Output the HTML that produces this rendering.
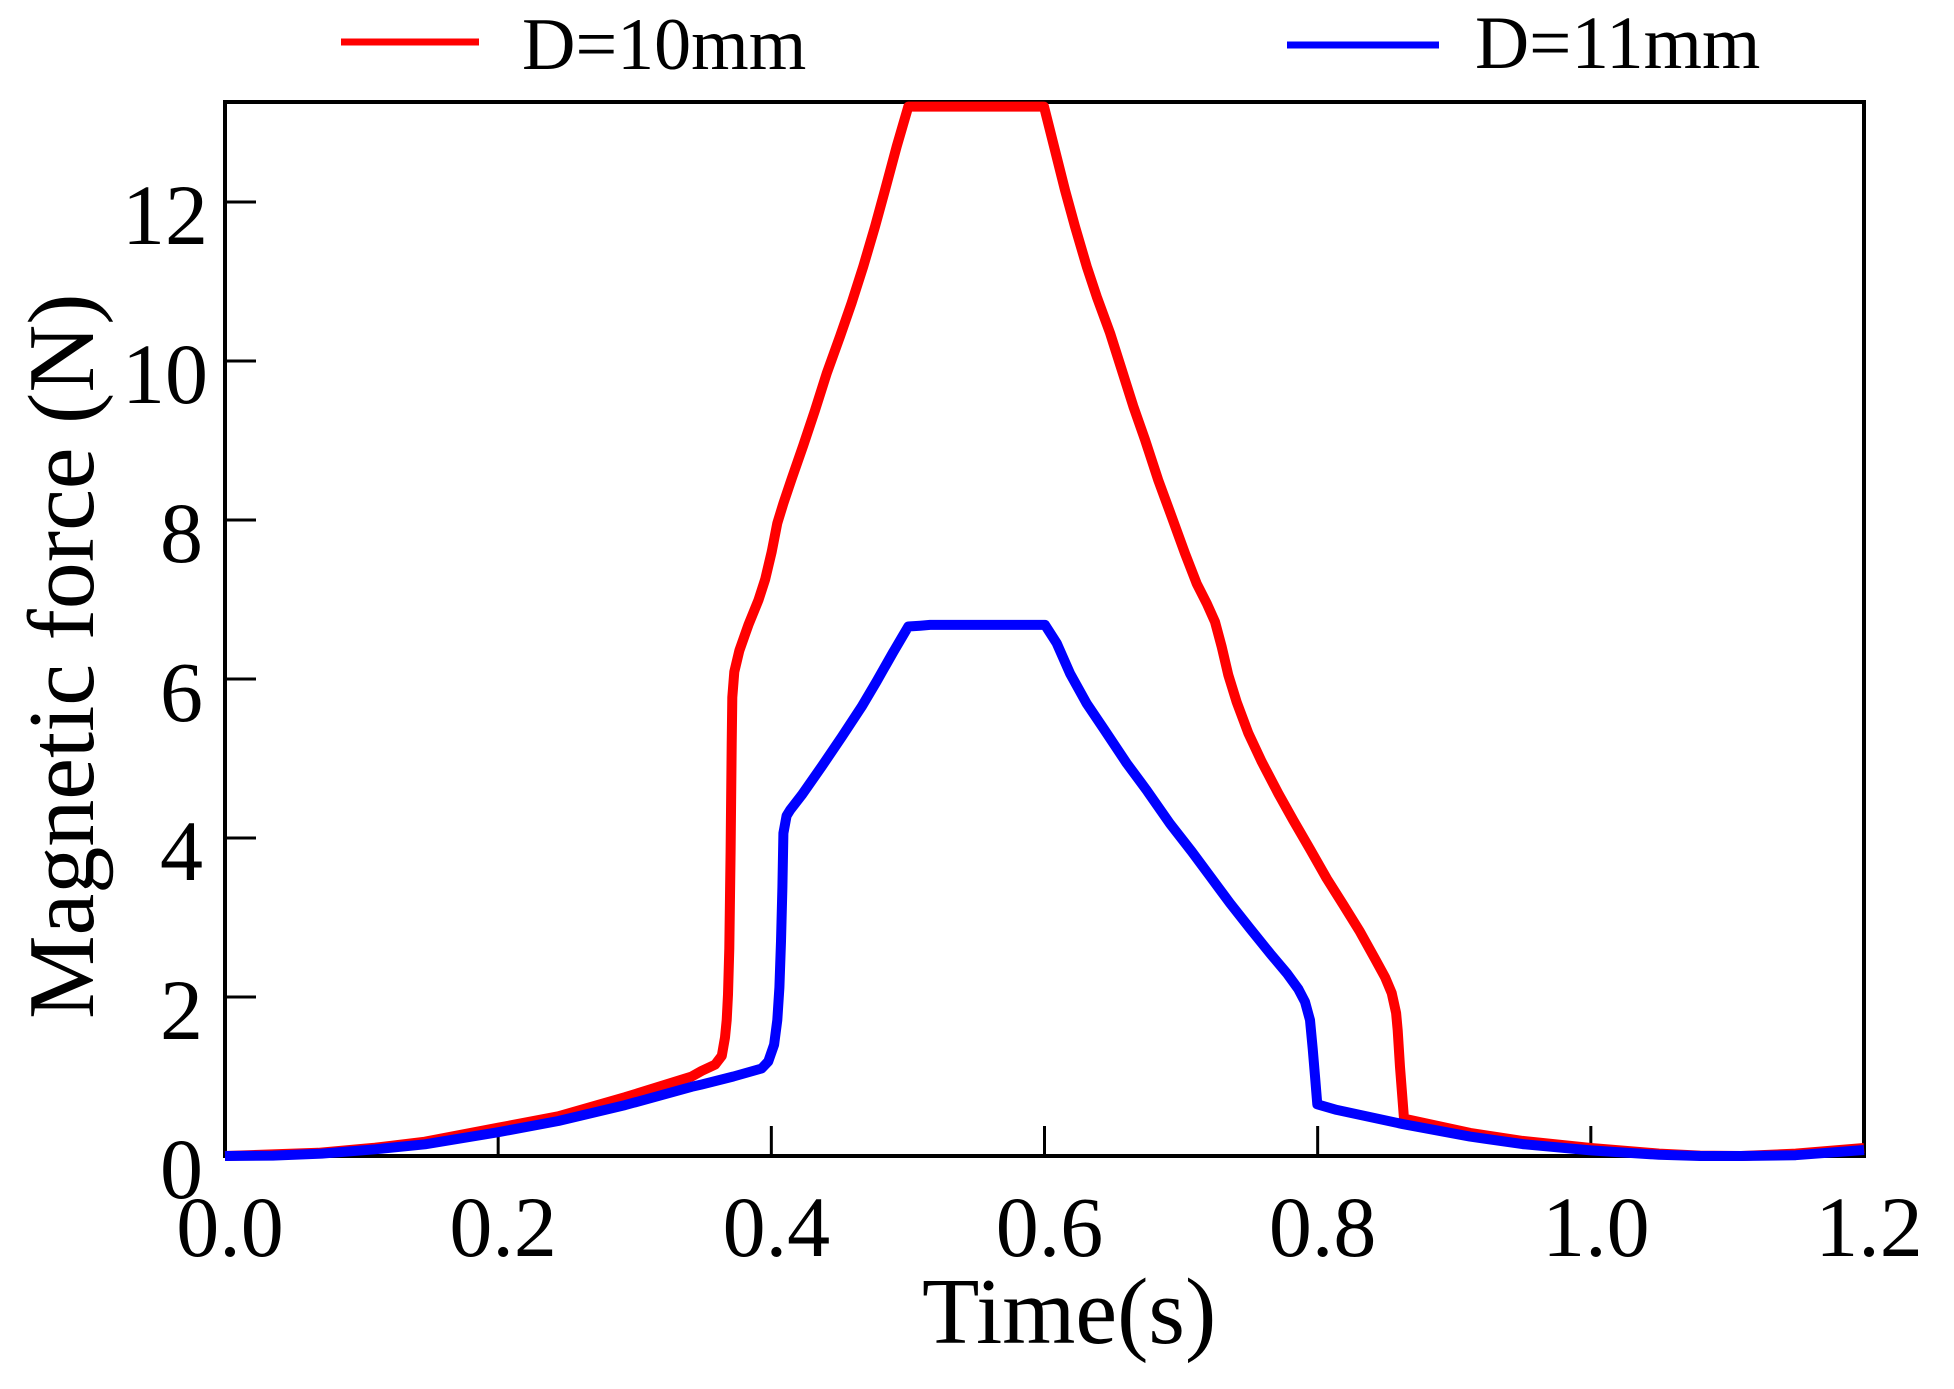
<!DOCTYPE html>
<html>
<head>
<meta charset="utf-8">
<title>Magnetic force vs time</title>
<style>
html,body{margin:0;padding:0;background:#fff;}
svg{display:block;}
text{font-family:"Liberation Serif",serif;fill:#000;}
</style>
</head>
<body>
<svg id="chart" width="1954" height="1389" viewBox="0 0 1954 1389" xmlns="http://www.w3.org/2000/svg">
<rect x="0" y="0" width="1954" height="1389" fill="#fff"/>
<g id="ticks"></g>
<rect x="225" y="102" width="1639" height="1054" fill="none" stroke="#000" stroke-width="4"/>
<g id="series"></g>
<g id="labels"></g>
<text x="922" y="1343" font-size="94">Time(s)</text>
<text transform="translate(93,1019) rotate(-90)" font-size="94">Magnetic force (N)</text>
<g>
<line x1="341" y1="42" x2="479" y2="42" stroke="#f00" stroke-width="7"/>
<text x="522" y="69" font-size="74">D=10mm</text>
<line x1="1287" y1="45" x2="1439" y2="45" stroke="#00f" stroke-width="7"/>
<text x="1475" y="68" font-size="75">D=11mm</text>
</g>
</svg>
<script>
const xTicks = [0.0, 0.2, 0.4, 0.6, 0.8, 1.0, 1.2];
const xTickLabels = ["0.0", "0.2", "0.4", "0.6", "0.8", "1.0", "1.2"];
const yTicks = [0, 2, 4, 6, 8, 10, 12];
const yTickLabels = ["0", "2", "4", "6", "8", "10", "12"];

const timeD10 = [0, .0683, .1098, .1464, .2001, .244, .2929, .3417, .349, .3588, .3637, .3661, .3673, .3683, .3692, .3702, .371, .3714, .3729, .3766, .3832, .3905, .3954, .4003, .4044, .4088, .4149, .4234, .432, .4405, .4503, .4588, .4673, .4759, .4832, .4918, .5003, .5996, .6077, .615, .6223, .6309, .6382, .648, .6565, .665, .6736, .6833, .6931, .7029, .7114, .7188, .7248, .7297, .7346, .7407, .7492, .759, .7712, .7822, .7944, .8066, .8188, .831, .842, .8493, .8542, .8574, .8586, .8603, .8632, .9115, .95, 1.0, 1.05, 1.08, 1.11, 1.15, 1.2];
const forceD10 = [0, .04, .105, .18, .356, .5, .74, 1.0, 1.07, 1.15, 1.26, 1.49, 1.71, 2.03, 2.61, 3.83, 5.19, 5.77, 6.09, 6.36, 6.68, 6.99, 7.25, 7.6, 7.96, 8.21, 8.52, 8.94, 9.38, 9.84, 10.31, 10.73, 11.19, 11.69, 12.15, 12.7, 13.2, 13.2, 12.65, 12.15, 11.69, 11.19, 10.81, 10.35, 9.89, 9.43, 9.01, 8.5, 8.04, 7.58, 7.2, 6.95, 6.72, 6.41, 6.05, 5.71, 5.32, 4.96, 4.56, 4.22, 3.86, 3.49, 3.16, 2.82, 2.48, 2.25, 2.05, 1.8, 1.58, 1.12, .47, .29, .19, .1, .03, .005, 0, .03, .1];

const timeD11 = [0, .035, .0708, .1098, .1464, .2001, .244, .2929, .3417, .349, .3722, .3929, .3978, .402, .4044, .4059, .4071, .4081, .4088, .4112, .4137, .4222, .4369, .4515, .4661, .4771, .4893, .5003, .5089, .5162, .6004, .6089, .6187, .6309, .6431, .6602, .6748, .6919, .7078, .7212, .7358, .7505, .7651, .7773, .7858, .7907, .7944, .7964, .7981, .7997, .8139, .8627, .9115, .95, 1.0, 1.05, 1.08, 1.11, 1.15, 1.2];
const forceD11 = [0, .005, .03, .084, .147, .3, .44, .64, .87, .9, 1.0, 1.1, 1.19, 1.4, 1.71, 2.12, 2.7, 3.38, 4.06, 4.28, 4.35, 4.54, 4.9, 5.27, 5.65, 5.97, 6.34, 6.66, 6.67, 6.68, 6.68, 6.45, 6.07, 5.69, 5.38, 4.94, 4.6, 4.18, 3.83, 3.52, 3.18, 2.86, 2.55, 2.3, 2.1, 1.94, 1.71, 1.35, .99, .65, .58, .4, .244, .15, .07, .015, 0, 0, .01, .075];

const NS = "http://www.w3.org/2000/svg";
function xScale(t) { return 225 + t * (1864 - 225) / 1.2; }
function yScale(v) { return 1156 - v * 79.5; }
function pathFrom(ts, vs) {
  return ts.map(function (t, i) {
    return (i ? "L" : "M") + xScale(t).toFixed(1) + " " + yScale(vs[i]).toFixed(1);
  }).join(" ");
}
const tickGroup = document.getElementById("ticks");
const labelGroup = document.getElementById("labels");
const seriesGroup = document.getElementById("series");

xTicks.forEach(function (t, i) {
  const tick = document.createElementNS(NS, "line");
  
  
  tick.setAttribute("x1", xScale(t));
  tick.setAttribute("x2", xScale(t));
  tick.setAttribute("y1", 1156);
  tick.setAttribute("y2", 1126);
  tick.setAttribute("stroke", "#000");
  tick.setAttribute("stroke-width", "3");
  tickGroup.appendChild(tick);
  const label = document.createElementNS(NS, "text");
  
  
  label.setAttribute("x", xScale(t) + 5);
  label.setAttribute("y", 1256);
  label.setAttribute("font-size", "86");
  label.setAttribute("text-anchor", "middle");
  label.textContent = xTickLabels[i];
  labelGroup.appendChild(label);
});
yTicks.forEach(function (v, i) {
  const tick = document.createElementNS(NS, "line");
  
  
  tick.setAttribute("x1", 225);
  tick.setAttribute("x2", 256);
  tick.setAttribute("y1", yScale(v));
  tick.setAttribute("y2", yScale(v));
  tick.setAttribute("stroke", "#000");
  tick.setAttribute("stroke-width", "3");
  tickGroup.appendChild(tick);
  const label = document.createElementNS(NS, "text");
  
  
  label.setAttribute("x", yTickLabels[i].length > 1 ? 208 : 203);
  label.setAttribute("y", yScale(v) + 42);
  label.setAttribute("font-size", "86");
  label.setAttribute("text-anchor", "end");
  label.textContent = yTickLabels[i];
  labelGroup.appendChild(label);
});

const redLine = document.createElementNS(NS, "path");


redLine.setAttribute("d", pathFrom(timeD10, forceD10));
redLine.setAttribute("fill", "none");
redLine.setAttribute("stroke", "#f00");
redLine.setAttribute("stroke-width", "10");
redLine.setAttribute("stroke-linejoin", "round");
seriesGroup.appendChild(redLine);

const blueLine = document.createElementNS(NS, "path");


blueLine.setAttribute("d", pathFrom(timeD11, forceD11));
blueLine.setAttribute("fill", "none");
blueLine.setAttribute("stroke", "#00f");
blueLine.setAttribute("stroke-width", "10");
blueLine.setAttribute("stroke-linejoin", "round");
seriesGroup.appendChild(blueLine);
</script>
</body>
</html>
